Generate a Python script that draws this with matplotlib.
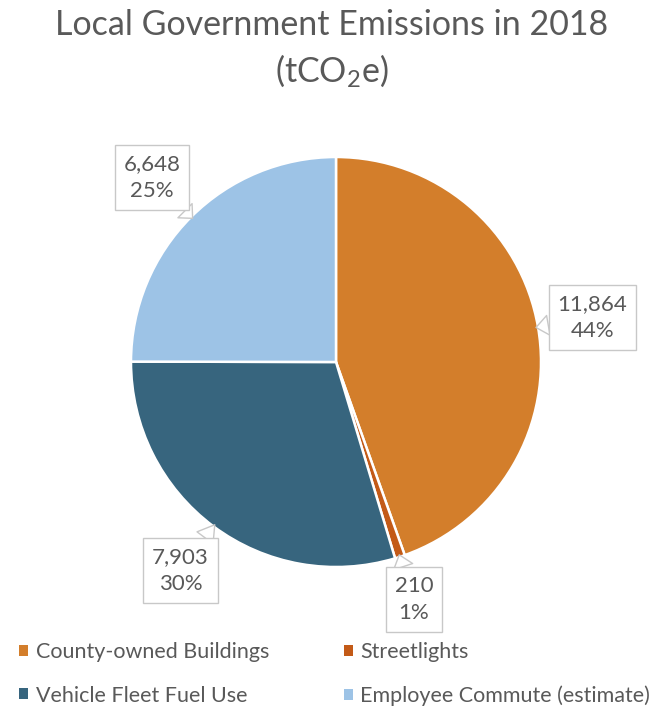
import numpy as np
import matplotlib
matplotlib.use("Agg")
import matplotlib.pyplot as plt
from matplotlib.patches import Patch

plt.rcParams["font.family"] = ["Lato", "DejaVu Sans"]
plt.rcParams["mathtext.fontset"] = "custom"
plt.rcParams["mathtext.rm"] = "Lato"
plt.rcParams["mathtext.it"] = "Lato"

categories = ["County-owned Buildings", "Streetlights",
              "Vehicle Fleet Fuel Use", "Employee Commute (estimate)"]
emissions = [11864, 210, 7903, 6648]
shares = ["44%", "1%", "30%", "25%"]
colors = ["#D37E2B", "#C35A17", "#37657E", "#9DC3E6"]

TEXT = "#595959"

fig = plt.figure(figsize=(6.63, 7.08), dpi=100)
W, H = 663, 708
cx, cy, r = 336, 362, 205
ax = fig.add_axes([(cx - r) / W, (H - cy - r) / H, 2 * r / W, 2 * r / H])

wedges, _ = ax.pie(emissions, colors=colors, startangle=90, counterclock=False,
                   radius=1.0, wedgeprops=dict(edgecolor="white", linewidth=1.8))
ax.set_xlim(-1, 1)
ax.set_ylim(-1, 1)
ax.set_aspect("equal")
ax.axis("off")

label_r = [1.27, 1.22, 1.27, 1.27]
for w, val, pct, lr in zip(wedges, emissions, shares, label_r):
    mid = np.deg2rad((w.theta1 + w.theta2) / 2)
    tip = (np.cos(mid) * 0.99, np.sin(mid) * 0.99)
    pos = (np.cos(mid) * lr, np.sin(mid) * lr)
    ax.annotate(f"{val:,}\n{pct}", xy=tip, xytext=pos,
                ha="center", va="center", fontsize=16, color=TEXT,
                linespacing=1.45, annotation_clip=False,
                bbox=dict(boxstyle="square,pad=0.4", fc="white", ec="#C8C8C8", lw=1),
                arrowprops=dict(arrowstyle="wedge,tail_width=0.9,shrink_factor=0.5",
                                fc="white", ec="#C8C8C8", lw=1, shrinkA=0, shrinkB=0))

fig.text(0.5, 1 - 25 / H, "Local Government Emissions in 2018", ha="center", va="center",
         fontsize=24.5, color=TEXT)
fig.text(0.5, 1 - 71 / H, "(tCO$_2$e)", ha="center", va="center",
         fontsize=24.5, color=TEXT)

# legend: two columns, row-wise order
order = [0, 2, 1, 3]
handles = [Patch(facecolor=colors[i], edgecolor="none") for i in order]
labels = [categories[i] for i in order]
fig.legend(handles, labels, ncol=2, loc="center left",
           bbox_to_anchor=(0 / W, 1 - 674 / H), frameon=False,
           fontsize=15.5, labelcolor=TEXT, handlelength=0.4, handleheight=0.4,
           handletextpad=0.35, columnspacing=3.5, labelspacing=1.1)

fig.savefig("out.png", dpi=100)
